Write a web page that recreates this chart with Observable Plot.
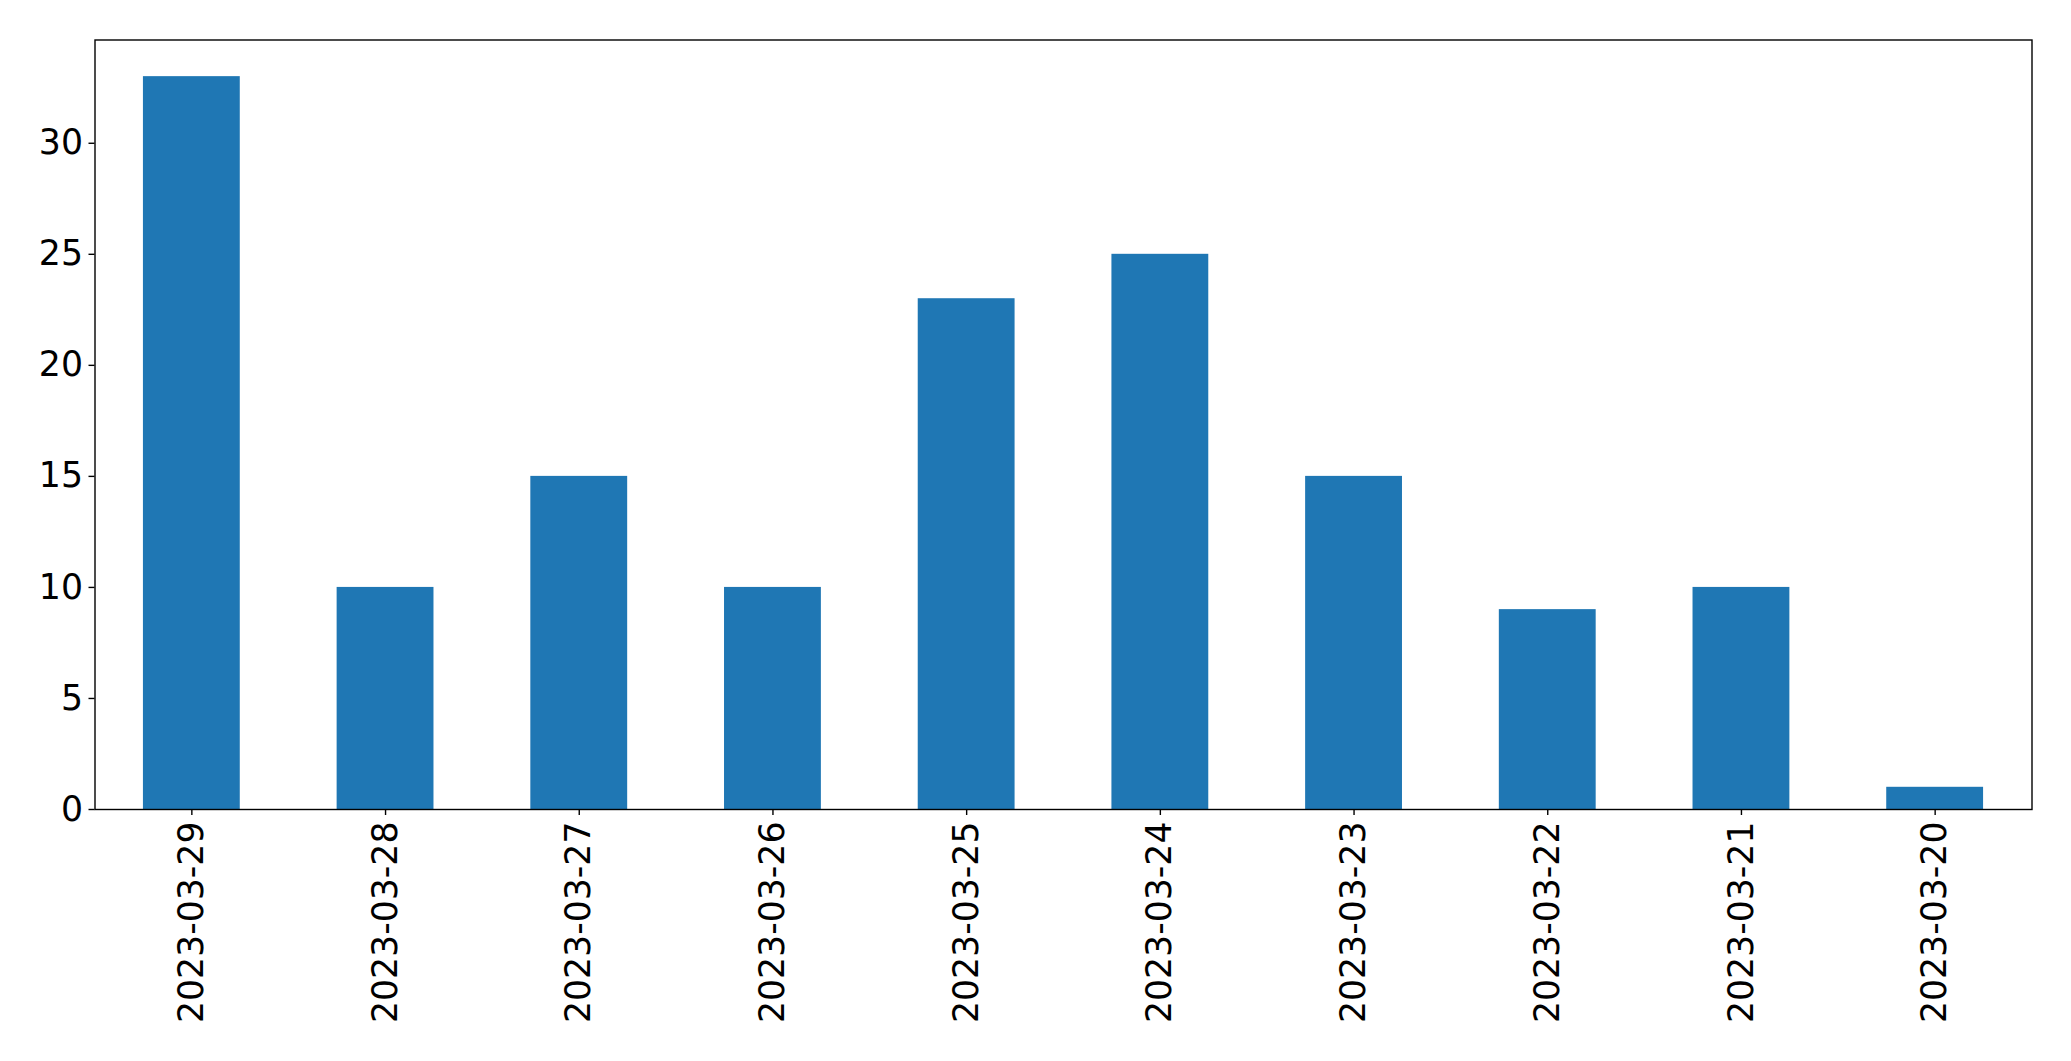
<!DOCTYPE html>
<html>
<head>
<meta charset="utf-8">
<script src="https://cdn.jsdelivr.net/npm/d3@7"></script>
<script src="https://cdn.jsdelivr.net/npm/@observablehq/plot@0.6"></script>
<style>
  html, body { margin: 0; padding: 0; background: #fff; }
  svg { display: block; }
</style>
</head>
<body>
<div id="chart"></div>
<script>
const dates = ["2023-03-29","2023-03-28","2023-03-27","2023-03-26","2023-03-25","2023-03-24","2023-03-23","2023-03-22","2023-03-21","2023-03-20"];
const counts = [33, 10, 15, 10, 23, 25, 15, 9, 10, 1];
const yTicks = [0, 5, 10, 15, 20, 25, 30];

const data = dates.map((d, i) => ({date: d, count: counts[i]}));

const chart = Plot.plot({
  width: 2071,
  height: 1061,
  marginLeft: 94.5,
  marginRight: 39.5,
  marginTop: 39.5,
  marginBottom: 252,
  style: {fontFamily: "DejaVu Sans", fontSize: "34.7px", color: "black", background: "white"},
  x: {domain: dates, paddingInner: 0.5, paddingOuter: 0.25, round: false, label: null},
  y: {domain: [0, 34.65], label: null},
  marks: [
    Plot.barY(data, {x: "date", y: "count", fill: "#1f77b4"}),
    Plot.axisY({ticks: yTicks, tickSize: 6, tickPadding: 6, label: null, fontSize: 34.7, strokeWidth: 1.4}),
    Plot.axisX({tickSize: 6, tickPadding: 6, tickRotate: -90, label: null, fontSize: 34.7, strokeWidth: 1.4}),
    Plot.frame({stroke: "black", strokeWidth: 1.4})
  ]
});
document.getElementById("chart").appendChild(chart);
</script>
</body>
</html>
